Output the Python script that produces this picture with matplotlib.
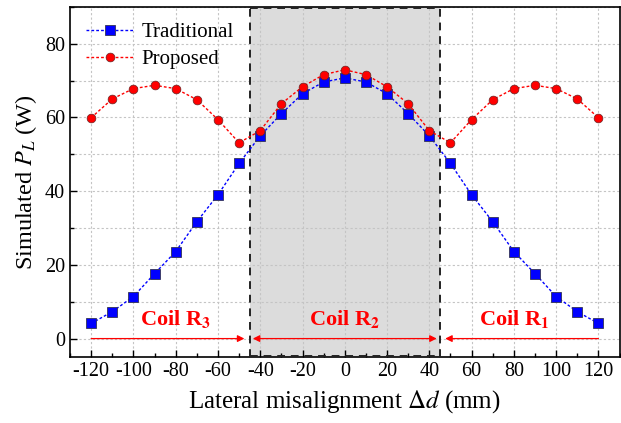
import numpy as np
import matplotlib
matplotlib.use("Agg")
import matplotlib.pyplot as plt
from matplotlib.patches import Rectangle
from matplotlib.ticker import MultipleLocator

plt.rcParams['font.family'] = ['Liberation Serif', 'DejaVu Serif']
plt.rcParams['mathtext.fontset'] = 'stix'
plt.rcParams['axes.unicode_minus'] = False

# lateral misalignment (mm)
d = [-120, -110, -100, -90, -80, -70, -60, -50, -40, -30, -20, -10, 0,
     10, 20, 30, 40, 50, 60, 70, 80, 90, 100, 110, 120]

# simulated load power (W)
traditional = [4.1, 7.3, 11.4, 17.6, 23.6, 31.7, 39.0, 47.5, 55.0, 61.0, 66.4, 69.6, 70.7,
               69.6, 66.4, 61.0, 55.0, 47.5, 39.0, 31.7, 23.6, 17.6, 11.4, 7.3, 4.1]
proposed = [59.9, 65.0, 67.8, 68.7, 67.8, 64.8, 59.4, 53.1, 56.4, 63.7, 68.3, 71.6, 72.9,
            71.6, 68.3, 63.7, 56.4, 53.1, 59.4, 64.8, 67.8, 68.7, 67.8, 65.0, 59.9]

# coil zones
zone_edges = [-120, -45, 45, 120]
zone_names = ['Coil R$_\\mathbf{3}$', 'Coil R$_\\mathbf{2}$', 'Coil R$_\\mathbf{1}$']
zone_label_x = [-80, 0, 80]

fig = plt.figure(figsize=(6.21, 4.23), dpi=100)
ax = fig.add_axes([0.1127, 0.156, 0.885, 0.828])

# shaded middle zone
ax.add_patch(Rectangle((zone_edges[1], -5), zone_edges[2] - zone_edges[1], 95,
                       facecolor='#dcdcdc', edgecolor='none', zorder=0))
for xe in zone_edges[1:3]:
    ax.axvline(xe, color='#222222', lw=1.4, ls=(0, (4, 3)), zorder=3)
ax.plot([zone_edges[1], zone_edges[2]], [89.6, 89.6], color='#222222', lw=1.4, ls=(0, (4, 3)), zorder=3, clip_on=False)
ax.plot([zone_edges[1], zone_edges[2]], [-4.8, -4.8], color='#222222', lw=1.4, ls=(0, (4, 3)), zorder=3, clip_on=False)

ax.plot(d, traditional, ls=(0, (2, 1.5)), lw=1, color='blue', marker='s', ms=7,
        mfc='blue', mec='#333355', mew=0.6, label='Traditional', zorder=5)
ax.plot(d, proposed, ls=(0, (2, 1.5)), lw=1, color='red', marker='o', ms=6.3,
        mfc='red', mec='#662222', mew=0.5, label='Proposed', zorder=5)

# zone arrows
aprops = dict(arrowstyle='-|>', color='red', lw=0.9, mutation_scale=10, shrinkA=0, shrinkB=0)
ax.annotate('', xy=(zone_edges[1] - 2.5, 0), xytext=(zone_edges[0], 0), arrowprops=aprops, zorder=4)
ax.annotate('', xy=(zone_edges[1] + 1.5, 0), xytext=(0, 0), arrowprops=aprops, zorder=4)
ax.annotate('', xy=(zone_edges[2] - 1.5, 0), xytext=(0, 0), arrowprops=aprops, zorder=4)
ax.annotate('', xy=(zone_edges[2] + 2.5, 0), xytext=(zone_edges[3], 0), arrowprops=aprops, zorder=4)
for name, xl in zip(zone_names, zone_label_x):
    ax.text(xl, 5.3, name, color='red', fontsize=16, fontweight='bold', ha='center', va='center', zorder=6)

ax.set_xlim(-130, 130)
ax.set_ylim(-5, 90)
ax.xaxis.set_major_locator(MultipleLocator(20))
ax.xaxis.set_minor_locator(MultipleLocator(10))
ax.yaxis.set_major_locator(MultipleLocator(20))
ax.yaxis.set_minor_locator(MultipleLocator(10))
ax.tick_params(which='both', direction='in', labelsize=14.5, width=1)
ax.tick_params(which='major', length=5)
ax.tick_params(which='minor', length=3)
ax.grid(which='major', axis='x', color='#c4c4c4', ls=(0, (2, 2)), lw=0.8)
ax.grid(which='both', axis='y', color='#c4c4c4', ls=(0, (2, 2)), lw=0.8)
ax.set_axisbelow(True)
for s in ax.spines.values():
    s.set_linewidth(1.2)

ax.set_xlabel(r'Lateral misalignment $\Delta d$ (mm)', fontsize=18, labelpad=5)
ax.set_ylabel(r'Simulated $P_L$ (W)', fontsize=17.5, labelpad=4)

ax.legend(loc='upper left', bbox_to_anchor=(0.0, 1.0), frameon=False, fontsize=15,
          handlelength=2.3, handletextpad=0.4, labelspacing=0.38, borderaxespad=0.35)

fig.savefig('out.png', dpi=100)
